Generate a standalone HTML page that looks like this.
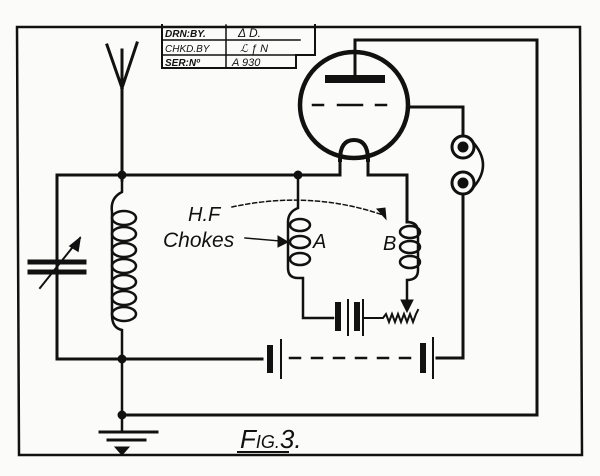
<!DOCTYPE html>
<html><head><style>
html,body{margin:0;padding:0;background:#fff;}
svg{display:block}
</style></head><body>
<svg width="600" height="476" viewBox="0 0 600 476" xmlns="http://www.w3.org/2000/svg">
<rect width="600" height="476" fill="#fbfbf9"/>
<g fill="none" stroke="#111" stroke-width="3" stroke-linecap="square">
<!-- frame -->
<path d="M17 27 L580 27 L582 455 L19 455 Z" stroke-width="2.5"/>
<!-- title block -->
<path d="M162 25 L162 68 L296 68 L296 55 L315 55 L315 25" stroke-width="2"/>
<path d="M162 40 L300 40 M162 55 L296 55 M226 25 L226 68" stroke-width="1.5"/>
<!-- antenna -->
<path d="M122 180 L122 88 M122 88 L107 45 M122 88 L137 43 M122 88 L122 50" stroke-width="3"/>
<!-- main top wire -->
<path d="M57 359 L57 175 L340 175 L340 155"/>
<path d="M368 155 L368 175 L407 175 L407 222"/>
<!-- tube -->
<ellipse cx="354" cy="105" rx="54" ry="53" stroke-width="4.5"/>
<path d="M340 160 Q340 140 354 140 Q368 140 368 160" stroke-width="4"/>
<rect x="325" y="75" width="60" height="8" fill="#111" stroke="none"/>
<path d="M355 75 L355 40 L537 40 L537 415 L122 415"/>
<path d="M313 105 L323 105 M338 105 L362 105 M376 105 L386 105" stroke-width="2.5"/>
<path d="M408 107 L463 107 L463 135"/>
<!-- phones -->
<circle cx="463" cy="147" r="11" stroke-width="3"/>
<circle cx="463" cy="147" r="4" fill="#111"/>
<circle cx="463" cy="183" r="11" stroke-width="3"/>
<circle cx="463" cy="183" r="4" fill="#111"/>
<path d="M471 140 Q495 165 471 190" stroke-width="2.5"/>
<path d="M463 194 L463 358 L437 358"/>
<!-- antenna coil -->
<path d="M122 175 L122 192 Q110 198 112 212 L112 315 Q112 328 122 330 L122 432" stroke-width="2.5"/>
<g stroke-width="2.5">
<ellipse cx="124" cy="218" rx="12" ry="7"/>
<ellipse cx="124" cy="234" rx="12" ry="7"/>
<ellipse cx="124" cy="250" rx="12" ry="7"/>
<ellipse cx="124" cy="266" rx="12" ry="7"/>
<ellipse cx="124" cy="282" rx="12" ry="7"/>
<ellipse cx="124" cy="298" rx="12" ry="7"/>
<ellipse cx="124" cy="314" rx="12" ry="7"/>
</g>
<!-- capacitor -->
<path d="M30 262 L84 262 M30 272 L84 272" stroke-width="5"/>
<path d="M40 288 L80 238" stroke-width="2"/>
<path d="M80 238 L70 246 L78 251 Z" fill="#111" stroke-width="1.5"/>
<!-- bottom wire -->
<path d="M57 359 L262 359"/>
<path d="M270 348 L270 370" stroke-width="6"/>
<path d="M281 340 L281 378" stroke-width="2"/>
<path d="M290 358 L300 358 M312 358 L322 358 M334 358 L344 358 M356 358 L366 358 M378 358 L388 358 M400 358 L410 358" stroke-width="2.5"/>
<path d="M423 346 L423 370" stroke-width="6"/>
<path d="M433 338 L433 378" stroke-width="2"/>
<!-- ground -->
<path d="M100 432 L157 432 M108 440 L145 440" stroke-width="3"/>
<path d="M115 447 L129 447 L122 455 Z" fill="#111" stroke-width="1"/>
<circle cx="122" cy="359" r="3" fill="#111"/>
<circle cx="122" cy="415" r="3" fill="#111"/>
<circle cx="122" cy="175" r="3" fill="#111"/>
<!-- choke A -->
<circle cx="298" cy="175" r="3" fill="#111"/>
<path d="M298 175 L298 208 Q288 212 288 222 L288 268 Q288 278 298 278 L303 278 L303 318 L333 318" stroke-width="2.5"/>
<g stroke-width="2.5">
<ellipse cx="300" cy="225" rx="10" ry="6"/>
<ellipse cx="300" cy="242" rx="10" ry="6"/>
<ellipse cx="300" cy="259" rx="10" ry="6"/>
</g>
<path d="M338 305 L338 328" stroke-width="6"/>
<path d="M348 300 L348 335" stroke-width="2"/>
<path d="M357 305 L357 328" stroke-width="6"/>
<path d="M363 300 L363 335" stroke-width="2"/>
<path d="M363 318 L383 318 l3 -4 l3 8 l3 -8 l3 8 l3 -8 l3 8 l3 -8 l3 8 l3 -8 l3 8 l3 -8 l2 -4" stroke-width="2"/>
<!-- choke B -->
<path d="M407 222 Q418 222 418 232 L418 270 Q418 280 407 280 L407 302" stroke-width="2.5"/>
<g stroke-width="2.5">
<ellipse cx="410" cy="232" rx="10" ry="6"/>
<ellipse cx="410" cy="247" rx="10" ry="6"/>
<ellipse cx="410" cy="262" rx="10" ry="6"/>
</g>
<path d="M401 300 L413 300 L407 312 Z" fill="#111" stroke-width="1"/>
<!-- dashed arc -->
<path d="M232 207 Q310 190 383 215" stroke-width="1.5" stroke-dasharray="4 3"/>
<path d="M386 219 L377 209 L385 208 Z" fill="#111" stroke-width="1"/>
<path d="M245 238 L280 241" stroke-width="1.5"/>
<path d="M288 242 L278 236 L278 247 Z" fill="#111" stroke-width="1"/>
<path d="M238 452 L288 452" stroke-width="2"/>
</g>
<g font-family="Liberation Sans, sans-serif" font-style="italic" fill="#111">
<text x="188" y="221" font-size="20">H.F</text>
<text x="163" y="247" font-size="21">Chokes</text>
<text x="313" y="248" font-size="20">A</text>
<text x="383" y="250" font-size="20">B</text>
<text x="240" y="448" font-size="26">F<tspan font-size="18">IG.</tspan>3.</text>
<text x="165" y="37" font-size="10" font-weight="bold">DRN:BY.</text>
<text x="165" y="52" font-size="10">CHKD.BY</text>
<text x="165" y="66" font-size="10" font-weight="bold">SER:Nº</text>
<text x="238" y="37" font-size="12">Δ  D.</text>
<text x="240" y="52" font-size="11">ℒ ƒ N</text>
<text x="232" y="66" font-size="11">A 930</text>
</g>
</svg>
</body></html>
